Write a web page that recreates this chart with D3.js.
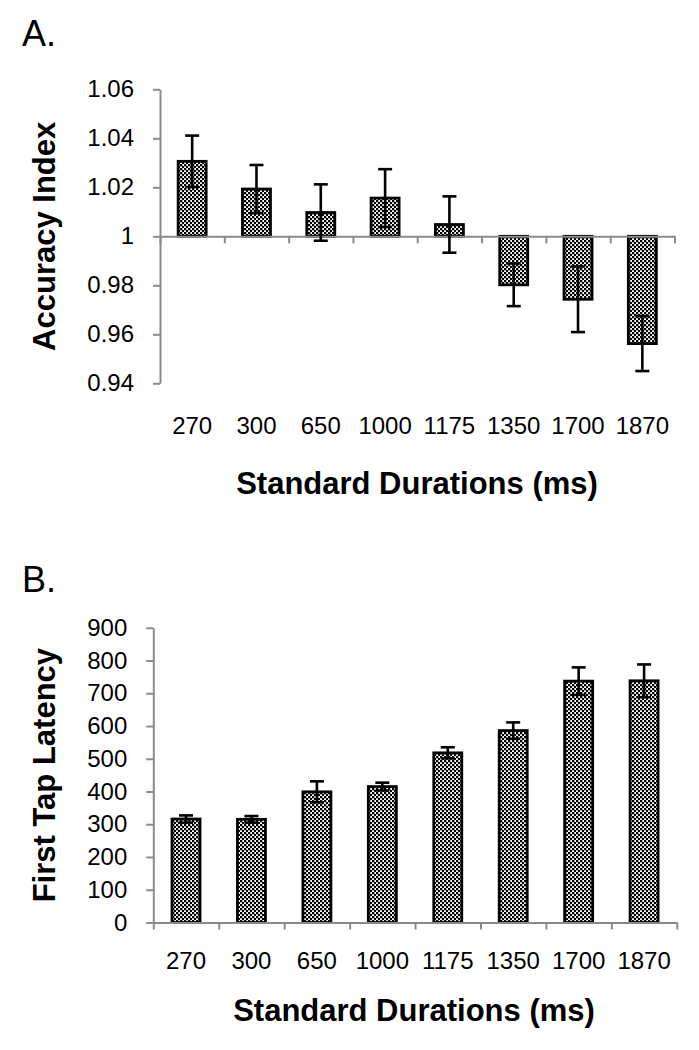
<!DOCTYPE html>
<html>
<head>
<meta charset="utf-8">
<script src="https://cdn.jsdelivr.net/npm/d3@7"></script>
<style>
  html, body { margin: 0; padding: 0; background: #fff; }
  svg { display: block; }
  text { font-family: "Liberation Sans", Arial, sans-serif; fill: #000; }
</style>
</head>
<body>
<svg id="chart" width="699" height="1050"></svg>
<script>
// ---------------- data ----------------
const categories = ["270", "300", "650", "1000", "1175", "1350", "1700", "1870"];

const accuracyValues = [1.0306, 1.0193, 1.0097, 1.0156, 1.0048, 0.9802, 0.9743, 0.9562];
const accuracyErrors = [0.0105, 0.0098, 0.0115, 0.0118, 0.0115, 0.0087, 0.0134, 0.0112];
const accuracyTicks = [0.94, 0.96, 0.98, 1, 1.02, 1.04, 1.06];
const accuracyTickLabels = ["0.94", "0.96", "0.98", "1", "1.02", "1.04", "1.06"];

const latencyValues = [316, 315, 399, 415, 518, 586, 737, 738];
const latencyErrors = [11, 10, 32, 12, 17, 25, 42, 50];
const latencyTicks = [0, 100, 200, 300, 400, 500, 600, 700, 800, 900];
const latencyTickLabels = ["0", "100", "200", "300", "400", "500", "600", "700", "800", "900"];

const xTitle = "Standard Durations (ms)";

// ---------------- drawing ----------------
const svg = d3.select("#chart");

const defs = svg.append("defs");
const pat = defs.append("pattern")
  .attr("id", "checker")
  .attr("width", 4).attr("height", 4)
  .attr("patternUnits", "userSpaceOnUse");
pat.append("rect").attr("width", 4).attr("height", 4).attr("fill", "#fff");
pat.append("rect").attr("width", 2.3).attr("height", 2.3).attr("fill", "#000");
pat.append("rect").attr("x", 2).attr("y", 2).attr("width", 2.3).attr("height", 2.3).attr("fill", "#000");

const AXIS_COLOR = "#8a8a8a";

function drawPanel(cfg) {
  const g = svg.append("g");

  const y = d3.scaleLinear().domain(cfg.domain).range([cfg.yBottom, cfg.yTop]);
  const x = d3.scaleBand().domain(categories).range([cfg.xLeft, cfg.xRight]).padding(0);
  const xb = d3.scaleLinear().domain([0, categories.length]).range([cfg.xLeft, cfg.xRight]);
  const barW = 28;

  // bars
  g.selectAll("rect.bar")
    .data(cfg.values)
    .join("rect")
    .attr("class", "bar")
    .attr("x", (d, i) => x(categories[i]) + x.bandwidth() / 2 - barW / 2)
    .attr("width", barW)
    .attr("y", d => Math.min(y(d), y(cfg.base)))
    .attr("height", d => Math.abs(y(d) - y(cfg.base)))
    .attr("fill", "url(#checker)")
    .attr("stroke", "#000")
    .attr("stroke-width", 2.8);

  // y axis
  const yAxis = d3.axisLeft(y)
    .tickValues(cfg.ticks)
    .tickSize(7)
    .tickSizeOuter(0)
    .tickPadding(cfg.tickPad)
    .tickFormat((d, i) => cfg.tickLabels[i]);
  const yg = g.append("g").attr("transform", `translate(${cfg.xLeft},0)`).call(yAxis);
  yg.select(".domain").attr("stroke", AXIS_COLOR).attr("stroke-width", 2);
  yg.selectAll(".tick line").attr("stroke", AXIS_COLOR).attr("stroke-width", 2);
  yg.selectAll(".tick text")
    .attr("font-size", cfg.tickFont)
    .attr("font-family", "'Liberation Sans', Arial, sans-serif")
    .attr("fill", "#000");

  // x axis (boundary ticks) at baseline
  const xAxis = d3.axisBottom(xb)
    .tickValues(d3.range(0, categories.length + 1))
    .tickSize(7)
    .tickSizeOuter(0)
    .tickFormat("");
  const xg = g.append("g").attr("transform", `translate(0,${y(cfg.base)})`).call(xAxis);
  xg.select(".domain").attr("stroke", AXIS_COLOR).attr("stroke-width", 2);
  xg.selectAll(".tick line").attr("stroke", AXIS_COLOR).attr("stroke-width", 2);

  // error bars
  const eb = g.append("g").attr("stroke", "#000").attr("stroke-width", 2.6).attr("fill", "none");
  cfg.values.forEach((v, i) => {
    const cx = x(categories[i]) + x.bandwidth() / 2;
    const lo = v - cfg.errors[i], hi = v + cfg.errors[i];
    eb.append("line").attr("x1", cx).attr("x2", cx).attr("y1", y(lo)).attr("y2", y(hi));
    eb.append("line").attr("x1", cx - 7).attr("x2", cx + 7).attr("y1", y(lo)).attr("y2", y(lo));
    eb.append("line").attr("x1", cx - 7).attr("x2", cx + 7).attr("y1", y(hi)).attr("y2", y(hi));
  });

  // category labels
  g.selectAll("text.cat")
    .data(categories)
    .join("text")
    .attr("class", "cat")
    .attr("x", d => x(d) + x.bandwidth() / 2)
    .attr("y", cfg.catBaseline)
    .attr("text-anchor", "middle")
    .attr("font-size", cfg.tickFont)
    .text(d => d);

  // x title
  g.append("text")
    .attr("x", cfg.xTitleX)
    .attr("y", cfg.xTitleY)
    .attr("text-anchor", "middle")
    .attr("font-size", 31)
    .attr("font-weight", "bold")
    .text(xTitle);

  // y title
  g.append("text")
    .attr("transform", `translate(${cfg.yTitleX},${(cfg.yTop + cfg.yBottom) / 2}) rotate(-90)`)
    .attr("text-anchor", "middle")
    .attr("font-size", 31)
    .attr("font-weight", "bold")
    .text(cfg.yTitle);

  // panel letter
  g.append("text")
    .attr("x", 22)
    .attr("y", cfg.letterY)
    .attr("font-size", 36)
    .text(cfg.letter);
}

drawPanel({
  letter: "A.", letterY: 46,
  values: accuracyValues, errors: accuracyErrors,
  domain: [0.94, 1.06], base: 1,
  ticks: accuracyTicks, tickLabels: accuracyTickLabels,
  yTop: 89.3, yBottom: 383.3,
  xLeft: 160, xRight: 674.5,
  tickPad: 19, tickFont: 24,
  catBaseline: 434,
  xTitleX: 417, xTitleY: 494,
  yTitle: "Accuracy Index", yTitleX: 55
});

drawPanel({
  letter: "B.", letterY: 592,
  values: latencyValues, errors: latencyErrors,
  domain: [0, 900], base: 0,
  ticks: latencyTicks, tickLabels: latencyTickLabels,
  yTop: 627.75, yBottom: 922.5,
  xLeft: 153.3, xRight: 676.8,
  tickPad: 19, tickFont: 24,
  catBaseline: 969,
  xTitleX: 414, xTitleY: 1021,
  yTitle: "First Tap Latency", yTitleX: 55
});
</script>
</body>
</html>
